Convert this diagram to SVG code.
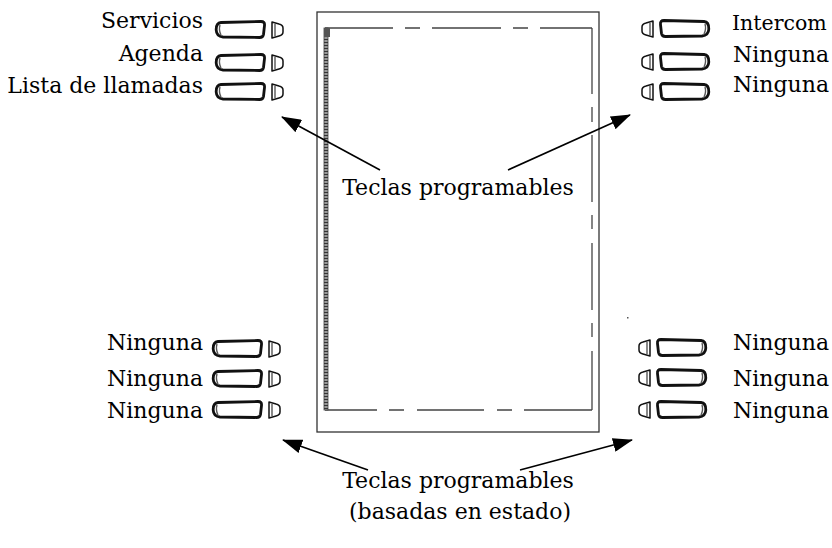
<svg xmlns="http://www.w3.org/2000/svg" width="832" height="548" viewBox="0 0 832 548">
<style>
.t{font-family:"DejaVu Serif","Liberation Serif",serif;font-size:22px;fill:#000}
.r{text-anchor:end}
.c{text-anchor:middle}
.k{fill:#fff;stroke:#111;stroke-width:2.8;stroke-linejoin:round}
.ks{fill:#fff;stroke:#111;stroke-width:1.5;stroke-linejoin:round}
.in{fill:none;stroke:#555;stroke-width:1.4}
.bd{fill:none;stroke:#444;stroke-width:1.3}
.ar{stroke:#000;stroke-width:1.6;fill:none}
</style>
<defs>
<marker id="ah" markerWidth="20" markerHeight="14" refX="19" refY="7" orient="auto" markerUnits="userSpaceOnUse">
<path d="M0,0 L20,7 L0,14 Z" fill="#000"/>
</marker>
<g id="key">
<path class="k" d="M6,1.5 L46,0.5 Q50,0.5 49.5,4.5 L48.5,13.5 Q48,16.5 44.5,16.5 L8,16 Q1.5,15.5 1.2,9 Q1,2 6,1.5 Z"/>
<path class="in" d="M5,4 Q3.5,9 6,14"/>
<path class="ks" d="M57,1 L64,3 Q68,4 68,7 L68,11 Q68,14 64,15 L57,17 Z"/>
<path class="in" d="M60,3 L60,15"/>
</g>
</defs>
<rect width="832" height="548" fill="#fff"/>
<g id="phone">
<rect x="317" y="12" width="282" height="420" fill="none" stroke="#333" stroke-width="1.3"/>
<path class="bd" d="M325,28 H393 M405,28 H420 M432,28 H501 M513,28 H528 M540,28 H592"/>
<path class="bd" d="M325,410 H377 M389,410 H404 M417,410 H484 M497,410 H512 M524,410 H592"/>
<path class="bd" d="M592,28 V94 M592,107 V122 M592,135 V202 M592,215 V229 M592,243 V310 M592,323 V337 M592,351 V410"/>
<rect x="324" y="28" width="4" height="382" fill="#999" stroke="#444" stroke-width="0.8"/>
<line x1="326" y1="30" x2="326" y2="410" stroke="#333" stroke-width="4" stroke-dasharray="1 2"/>
<rect x="324" y="28" width="6" height="9" fill="#555"/>
<rect x="627" y="317" width="1.5" height="1.5" fill="#555"/>
</g>
<g id="keys-left-top">
<use href="#key" transform="translate(215,21)"/>
<use href="#key" transform="translate(215,54)"/>
<use href="#key" transform="translate(215,83)"/>
</g>
<g id="keys-right-top">
<use href="#key" transform="translate(710,20) scale(-1,1)"/>
<use href="#key" transform="translate(710,53) scale(-1,1)"/>
<use href="#key" transform="translate(710,83) scale(-1,1)"/>
</g>
<g id="keys-left-bottom">
<use href="#key" transform="translate(212,340)"/>
<use href="#key" transform="translate(212,370)"/>
<use href="#key" transform="translate(212,401)"/>
</g>
<g id="keys-right-bottom">
<use href="#key" transform="translate(707,339) scale(-1,1)"/>
<use href="#key" transform="translate(707,369) scale(-1,1)"/>
<use href="#key" transform="translate(707,401) scale(-1,1)"/>
</g>
<g id="labels-left-top">
<text class="t r" x="203" y="28">Servicios</text>
<text class="t r" x="203" y="61">Agenda</text>
<text class="t r" x="203" y="93">Lista de llamadas</text>
</g>
<g id="labels-right-top">
<text class="t" x="732" y="30" style="font-size:20.5px">Intercom</text>
<text class="t" x="733" y="62">Ninguna</text>
<text class="t" x="733" y="92">Ninguna</text>
</g>
<g id="labels-left-bottom">
<text class="t r" x="203" y="350">Ninguna</text>
<text class="t r" x="203" y="386">Ninguna</text>
<text class="t r" x="203" y="418">Ninguna</text>
</g>
<g id="labels-right-bottom">
<text class="t" x="733" y="350">Ninguna</text>
<text class="t" x="733" y="386">Ninguna</text>
<text class="t" x="733" y="418">Ninguna</text>
</g>
<g id="caption-top">
<text class="t c" x="458" y="195">Teclas programables</text>
</g>
<g id="caption-bottom">
<text class="t c" x="458" y="488">Teclas programables</text>
<text class="t c" x="460" y="519">(basadas en estado)</text>
</g>
<g id="connectors">
<line class="ar" x1="380" y1="170" x2="282" y2="117" marker-end="url(#ah)"/>
<line class="ar" x1="508" y1="170" x2="630" y2="115" marker-end="url(#ah)"/>
<line class="ar" x1="368" y1="470" x2="283" y2="440" marker-end="url(#ah)"/>
<line class="ar" x1="520" y1="470" x2="632" y2="440" marker-end="url(#ah)"/>
</g>
</svg>
